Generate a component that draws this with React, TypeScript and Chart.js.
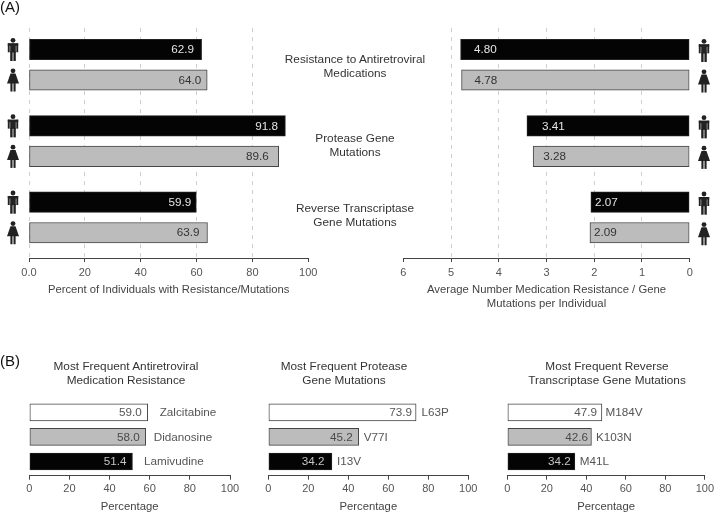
import { useEffect, useRef } from "react";
import { Chart, registerables } from "chart.js";

Chart.register(...registerables);

const FONT = '"Liberation Sans", Arial, sans-serif';

// Panel A: male and female rows alternate within each group
const rowsA = [1, 3, 6, 8, 11, 13];
const percentBars = [61.8, 63.8, 91.8, 89.4, 59.9, 63.9];
const percentLabels = ["62.9", "64.0", "91.8", "89.6", "59.9", "63.9"];
const averageBars = [4.8, 4.78, 3.41, 3.28, 2.07, 2.09];
const averageLabels = ["4.80", "4.78", "3.41", "3.28", "2.07", "2.09"];
const percentTicks = [0, 20, 40, 60, 80, 100];
const averageTicks = [6, 5, 4, 3, 2, 1, 0];

// Panel B
const rowsB = [0, 1, 2];
const medicationNames = ["Zalcitabine", "Didanosine", "Lamivudine"];
const medicationBars = [59.0, 58.0, 51.4];
const medicationLabels = ["59.0", "58.0", "51.4"];
const proteaseNames = ["L63P", "V77I", "I13V"];
const proteaseBars = [73.9, 45.2, 31.8];
const proteaseLabels = ["73.9", "45.2", "34.2"];
const rtNames = ["M184V", "K103N", "M41L"];
const rtBars = [47.9, 42.6, 34.2];
const rtLabels = ["47.9", "42.6", "34.2"];

const BLACK = "#040404";
const GRAY = "#bcbcbc";
const colorsA = [BLACK, GRAY, BLACK, GRAY, BLACK, GRAY];
const colorsB = ["#ffffff", GRAY, BLACK];

function drawPerson(ctx: CanvasRenderingContext2D, cx: number, cy: number, female: boolean) {
  ctx.fillStyle = "#222";
  ctx.beginPath();
  ctx.arc(cx, cy - 9.2, 2.4, 0, Math.PI * 2);
  ctx.fill();
  if (female) {
    ctx.beginPath();
    ctx.moveTo(cx - 2.5, cy - 6.5);
    ctx.lineTo(cx + 2.5, cy - 6.5);
    ctx.lineTo(cx + 6, cy + 3.5);
    ctx.lineTo(cx - 6, cy + 3.5);
    ctx.closePath();
    ctx.fill();
    ctx.fillRect(cx - 2.6, cy + 3, 2.1, 8.5);
    ctx.fillRect(cx + 0.5, cy + 3, 2.1, 8.5);
  } else {
    ctx.fillRect(cx - 5.2, cy - 6.2, 10.4, 2.5);
    ctx.fillRect(cx - 5.2, cy - 6.2, 1.9, 9);
    ctx.fillRect(cx + 3.3, cy - 6.2, 1.9, 9);
    ctx.fillRect(cx - 2.8, cy - 6, 5.6, 9);
    ctx.fillRect(cx - 2.8, cy + 2, 2.4, 9.5);
    ctx.fillRect(cx + 0.4, cy + 2, 2.4, 9.5);
  }
}

type PanelProps = {
  box: { left: number; top: number; width: number; height: number };
  padding: { left: number; right: number; top: number; bottom: number };
  axisHeight: number;
  rows: number[];
  bars: number[];
  labels: string[];
  colors: string[];
  insets: number[];
  ticks: number[];
  xMin: number;
  xMax: number;
  yMin: number;
  yMax: number;
  reverse?: boolean;
  barThickness: number;
  axisTitle: string | string[];
  titleSize?: number;
  tickPadding?: number;
  dashedGrid?: number[];
  tickFormat?: (v: number) => string;
  names?: string[];
  nameGaps?: number[];
  iconX?: number;
  iconShift?: number;
};

function Panel(p: PanelProps) {
  const ref = useRef<HTMLCanvasElement | null>(null);

  useEffect(() => {
    if (!ref.current) return;

    const barText = {
      id: "barText",
      afterDatasetsDraw(chart: Chart) {
        const ctx = chart.ctx;
        const els = chart.getDatasetMeta(0).data;
        const soft = !!p.names;
        ctx.save();
        ctx.font = `11.7px ${FONT}`;
        ctx.textBaseline = "middle";
        els.forEach((el: any, i) => {
          const color = p.colors[i];
          if (color === BLACK) ctx.fillStyle = soft ? "#c4c4c4" : "#e4e4e4";
          else if (color === GRAY) ctx.fillStyle = soft ? "#4a4a4a" : "#333";
          else ctx.fillStyle = "#555";
          if (p.reverse) {
            ctx.textAlign = "left";
            ctx.fillText(p.labels[i], el.x + p.insets[i], el.y + 0.5);
          } else {
            ctx.textAlign = "right";
            ctx.fillText(p.labels[i], el.x - p.insets[i], el.y + 0.5);
          }
          if (p.names && p.nameGaps) {
            ctx.textAlign = "left";
            ctx.fillStyle = "#555";
            ctx.fillText(p.names[i], el.x + p.nameGaps[i], el.y + 0.5);
          }
          if (p.iconX !== undefined) {
            drawPerson(ctx, p.iconX, el.y + (p.iconShift ?? 0), i % 2 === 1);
          }
        });
        ctx.restore();
      },
    };

    const chart = new Chart(ref.current, {
      type: "bar",
      data: {
        datasets: [
          {
            data: p.rows.map((y, i) => ({ x: p.bars[i], y })),
            backgroundColor: p.colors,
            borderColor: p.colors.map(c => (c === BLACK ? "#222" : "#444")),
            borderWidth: 1,
            borderSkipped: false,
            barThickness: p.barThickness,
          },
        ],
      } as any,
      options: {
        indexAxis: "y",
        responsive: false,
        animation: false,
        layout: { padding: p.padding },
        plugins: { legend: { display: false }, tooltip: { enabled: false } },
        scales: {
          x: {
            type: "linear",
            min: p.xMin,
            max: p.xMax,
            reverse: p.reverse,
            afterBuildTicks: (scale: any) => {
              scale.ticks = p.ticks.map(value => ({ value }));
            },
            afterFit: (scale: any) => {
              scale.height = p.axisHeight;
            },
            border: { color: "#444", width: 1, dash: [4, 5] },
            grid: {
              drawOnChartArea: !!p.dashedGrid,
              color: (c: any) => (p.dashedGrid?.includes(c.tick?.value) ? "#cfcfcf" : "rgba(0,0,0,0)"),
              tickColor: "#444",
              tickLength: 4,
              tickBorderDash: [],
            },
            ticks: {
              autoSkip: false,
              maxRotation: 0,
              padding: p.tickPadding ?? 3,
              color: "#555",
              font: { family: FONT, size: 11 },
              callback: (v: any) => (p.tickFormat ? p.tickFormat(v) : String(v)),
            },
            title: {
              display: true,
              text: p.axisTitle,
              color: "#444",
              padding: 0,
              font: { family: FONT, size: p.titleSize ?? 11.3, lineHeight: 14 / (p.titleSize ?? 11.3) },
            },
          },
          y: {
            type: "linear",
            display: false,
            offset: false,
            reverse: true,
            min: p.yMin,
            max: p.yMax,
          },
        },
      } as any,
      plugins: [barText],
    });

    return () => chart.destroy();
  }, []);

  return (
    <canvas
      ref={ref}
      width={p.box.width}
      height={p.box.height}
      style={{ position: "absolute", left: p.box.left, top: p.box.top, width: p.box.width, height: p.box.height }}
    />
  );
}

const textStyle = (left: number, top: number, width: number): React.CSSProperties => ({
  position: "absolute",
  left,
  top,
  width,
  textAlign: "center",
  font: `11.8px/14px ${FONT}`,
  color: "#333",
});

const panelB = { top: 50, bottom: 1, axisHeight: 38.3, height: 165 };

export default function App() {
  return (
    <div style={{ position: "absolute", left: 0, top: 0, width: 717, height: 513, background: "#fff", overflow: "hidden" }}>
      <Panel
        box={{ left: 0, top: 0, width: 360, height: 320 }}
        padding={{ left: 29, right: 51.7, top: 28, bottom: 23.4 }}
        axisHeight={38.6}
        rows={rowsA}
        bars={percentBars}
        labels={percentLabels}
        colors={colorsA}
        insets={[7.5, 6, 7.5, 10, 5, 8]}
        ticks={percentTicks}
        xMin={0}
        xMax={100}
        yMin={-0.408}
        yMax={14.654}
        barThickness={20.5}
        axisTitle="Percent of Individuals with Resistance/Mutations"
        titleSize={11.25}
        tickPadding={4}
        dashedGrid={[0, 20, 40, 60, 80]}
        tickFormat={v => (v === 0 ? "0.0" : String(v))}
        iconX={13}
      />
      <Panel
        box={{ left: 360, top: 0, width: 357, height: 320 }}
        padding={{ left: 43.3, right: 27.3, top: 28, bottom: 9 }}
        axisHeight={53}
        rows={rowsA}
        bars={averageBars}
        labels={averageLabels}
        colors={colorsA}
        insets={[13.5, 13, 15, 10, 4, 4]}
        ticks={averageTicks}
        xMin={0}
        xMax={6}
        yMin={-0.408}
        yMax={14.654}
        reverse
        barThickness={20.5}
        axisTitle={["Average Number Medication Resistance / Gene", "Mutations per Individual"]}
        tickPadding={4}
        dashedGrid={[5, 4, 3, 2, 1]}
        iconX={344}
        iconShift={1}
      />
      <Panel
        box={{ left: 0, top: 350, width: 250, height: panelB.height }}
        padding={{ left: 29.3, right: 20, top: panelB.top, bottom: panelB.bottom }}
        axisHeight={panelB.axisHeight}
        rows={rowsB}
        bars={medicationBars}
        labels={medicationLabels}
        colors={colorsB}
        insets={[6, 6, 6]}
        ticks={percentTicks}
        xMin={0}
        xMax={100}
        yMin={-0.5}
        yMax={2.577}
        barThickness={17}
        axisTitle="Percentage"
        names={medicationNames}
        nameGaps={[12, 8, 11.5]}
      />
      <Panel
        box={{ left: 250, top: 350, width: 240, height: panelB.height }}
        padding={{ left: 18.3, right: 21.7, top: panelB.top, bottom: panelB.bottom }}
        axisHeight={panelB.axisHeight}
        rows={rowsB}
        bars={proteaseBars}
        labels={proteaseLabels}
        colors={colorsB}
        insets={[4, 6, 7.5]}
        ticks={percentTicks}
        xMin={0}
        xMax={100}
        yMin={-0.5}
        yMax={2.577}
        barThickness={17}
        axisTitle="Percentage"
        names={proteaseNames}
        nameGaps={[5.5, 5, 5]}
      />
      <Panel
        box={{ left: 490, top: 350, width: 227, height: panelB.height }}
        padding={{ left: 17.3, right: 9.7, top: panelB.top, bottom: panelB.bottom }}
        axisHeight={panelB.axisHeight}
        rows={rowsB}
        bars={rtBars}
        labels={rtLabels}
        colors={colorsB}
        insets={[5, 3.5, 4]}
        ticks={percentTicks}
        xMin={0}
        xMax={100}
        yMin={-0.5}
        yMax={2.577}
        barThickness={17}
        axisTitle="Percentage"
        names={rtNames}
        nameGaps={[3.7, 4.5, 5]}
      />

      <div style={{ position: "absolute", left: 0, top: -2, font: `15px/18px ${FONT}`, color: "#111" }}>(A)</div>
      <div style={{ position: "absolute", left: 0, top: 352, font: `15px/18px ${FONT}`, color: "#111" }}>(B)</div>

      <div style={textStyle(255, 52, 200)}>Resistance to Antiretroviral<br />Medications</div>
      <div style={textStyle(255, 131, 200)}>Protease Gene<br />Mutations</div>
      <div style={textStyle(255, 201, 200)}>Reverse Transcriptase<br />Gene Mutations</div>

      <div style={textStyle(26, 359, 200)}>Most Frequent Antiretroviral<br />Medication Resistance</div>
      <div style={textStyle(244, 359, 200)}>Most Frequent Protease<br />Gene Mutations</div>
      <div style={textStyle(507, 359, 200)}>Most Frequent Reverse<br />Transcriptase Gene Mutations</div>
    </div>
  );
}
